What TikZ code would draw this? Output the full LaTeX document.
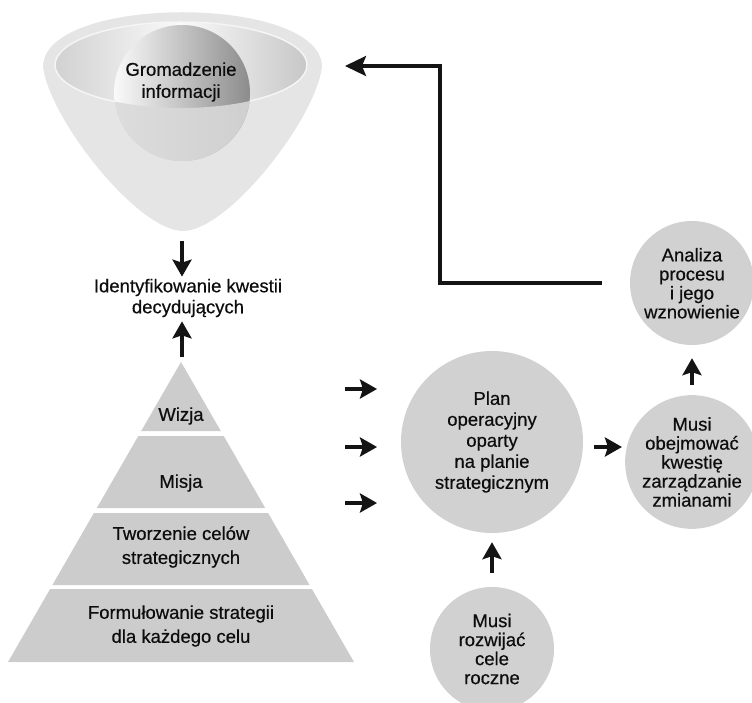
\documentclass[tikz,border=0pt]{standalone}
\usepackage{fontspec}
\setmainfont{Liberation Sans}[FakeBold=0.5]
\usetikzlibrary{arrows.meta,shapes.geometric}
\begin{document}
\begin{tikzpicture}[x=1pt,y=-1pt,
  txt/.style={font=\fontsize{18.5}{21}\selectfont, text=black!95, align=center, inner sep=0pt},
  bub/.style={circle, fill=black!18, inner sep=0pt, minimum size=124pt, align=center, text=black!95, font=\fontsize{18.5}{19}\selectfont},
  arr/.style={line width=3.5pt, black!92, -{Stealth[length=17pt,width=19pt,inset=3pt]}},
  bigarr/.style={line width=3.3pt, black!92, line join=miter, -{Stealth[length=21pt,width=20pt,inset=4pt]}},
  layer/.style={fill=black!20}]
\useasboundingbox (0,0) rectangle (752,703);

% ---------- funnel ----------
\fill[black!10] (43,67) .. controls (43,-6) and (322,-6) .. (322,67)
  .. controls (315,120) and (228,231) .. (183,231)
  .. controls (138,231) and (50,120) .. (43,67) -- cycle;
\shade[left color=black!18, right color=black!22, middle color=black!2, draw=black!4, line width=1.5pt]
  (181,65) ellipse [x radius=126, y radius=43];
\shade[left color=black!2, right color=black!45] (182,93) circle [radius=68];
\begin{scope}
  \clip (182,93) circle [radius=68];
  \fill[black!15, fill opacity=0.88, even odd rule] (100,0) rectangle (270,170)
    (181,65) ellipse [x radius=126, y radius=43];
\end{scope}
\node[txt, font=\fontsize{18.5}{22}\selectfont] (gro) at (181,82) {Gromadzenie\\informacji};

% ---------- pyramid ----------
\fill[layer] (181,362) -- (220.8,431) -- (141.2,431) -- cycle;
\fill[layer] (138.3,436) -- (223.7,436) -- (265.2,508) -- (96.8,508) -- cycle;
\fill[layer] (93.9,513) -- (268.1,513) -- (309.6,585) -- (52.4,585) -- cycle;
\fill[layer] (50.1,589) -- (311.9,589) -- (354,662) -- (8,662) -- cycle;
\coordinate (apex) at (182,357);
\node[txt] (wiz) at (181,416) {Wizja};
\node[txt] (mis) at (181,483) {Misja};
\node[txt, font=\fontsize{18.5}{24}\selectfont] (two) at (181,547) {Tworzenie celów\\strategicznych};
\node[txt, font=\fontsize{18.5}{24}\selectfont] (for) at (181,626) {Formułowanie strategii\\dla każdego celu};

% ---------- identification ----------
\node[txt] (ide) at (188,298) {Identyfikowanie kwestii\\decydujących};
\coordinate (funtip) at (182,241);
\draw[arr] (funtip) -- ([yshift=2pt]ide.north -| funtip);
\draw[arr] (apex) -- ([yshift=-4pt]ide.south -| apex);

% ---------- circles ----------
\node[bub, minimum size=182pt, font=\fontsize{18.5}{21}\selectfont] (plan) at (492,442) {Plan\\operacyjny\\oparty\\na planie\\strategicznym};
\node[bub] (obe) at (692,462) {Musi\\obejmować\\kwestię\\zarządzanie\\zmianami};
\node[bub] (ana) at (692,283) {\raisebox{14pt}{}Analiza\\procesu\\i jego\\wznowienie};
\node[bub] (roz) at (492,649) {Musi\\rozwijać\\cele\\roczne};

\foreach \y/\n in {389/1,447/2,503/3}{
  \coordinate (s\n) at (345,\y);
  \coordinate (e\n) at (377,\y);
  \draw[arr] (s\n) -- (e\n);
}
\draw[arr] ([xshift=11pt]plan.east |- 0,447) -- ([xshift=-3pt]obe.west |- 0,447);
\draw[arr] ([yshift=10pt]obe.north) -- ([yshift=-13pt]ana.south);
\draw[arr] ([yshift=14pt]roz.north) -- ([yshift=-9pt]plan.south);

% ---------- feedback ----------
\coordinate (fbA) at (440,283);
\coordinate (fbB) at (440,66);
\coordinate (fbEnd) at (345,66);
\draw[bigarr] ([xshift=-28pt]ana.west) -- (fbA) -- (fbB) -- (fbEnd);
\end{tikzpicture}
\end{document}
